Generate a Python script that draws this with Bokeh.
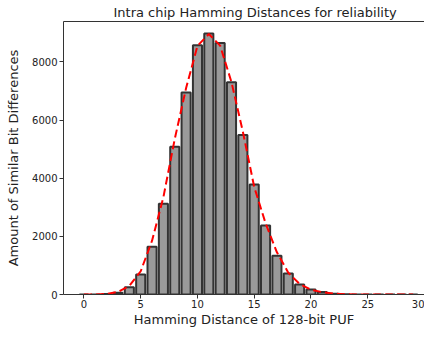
from bokeh.plotting import figure
from bokeh.models import Range1d, LinearAxis, FixedTicker
from bokeh.embed import file_html
from bokeh.resources import INLINE

# Hamming distance bins
distances = list(range(0, 30))
# Histogram counts
counts = [0, 2, 15, 60, 250, 690, 1640, 3120, 5080, 6950,
          8570, 8980, 8650, 7300, 5490, 3780, 2370, 1330, 720, 340,
          175, 90, 30, 10, 3, 0, 0, 0, 0, 0]
# Fitted curve values
fit_curve = [0, 3, 20, 90, 300, 800, 1850, 3350, 5350, 7100,
             8550, 8960, 8560, 7300, 5600, 3700, 2450, 1450, 750, 360,
             165, 80, 35, 12, 4, 1, 0, 0, 0, 0]
x_ticks = [0, 5, 10, 15, 20, 25, 30]
y_ticks = [0, 2000, 4000, 6000, 8000]

FONT = "DejaVu Sans"
TXT = "#222222"
SPINE = "#333333"

p = figure(width=424, height=329, output_backend="svg", toolbar_location=None,
           x_range=Range1d(-1.8, 30.0), y_range=Range1d(0, 9390),
           title="Intra chip Hamming Distances for reliability",
           min_border_left=63, min_border_right=0, min_border_top=5,
           min_border_bottom=0)

p.title.text_font = FONT
p.title.text_font_size = "13px"
p.title.text_font_style = "normal"
p.title.text_color = TXT
p.title.align = "left"
p.title.offset = 50
p.title.standoff = 4

p.outline_line_color = None
p.grid.visible = False
p.background_fill_color = "white"
p.border_fill_color = "white"

p.vbar(x=distances, top=counts, width=0.8, bottom=0,
       fill_color="#9a9a9a", line_color="#333333", line_width=2)
p.line(distances, fit_curve, line_color="red", line_width=2, line_dash="8 4")

for ax in (p.xaxis[0], p.yaxis[0]):
    ax.axis_line_color = SPINE
    ax.axis_line_width = 1
    ax.major_tick_line_color = SPINE
    ax.major_tick_out = 4
    ax.major_tick_in = 0
    ax.minor_tick_line_color = None
    ax.major_label_text_font = FONT
    ax.major_label_text_font_size = "10px"
    ax.major_label_text_color = TXT
    ax.major_label_standoff = 2
    ax.axis_label_text_font = FONT
    ax.axis_label_text_font_style = "normal"
    ax.axis_label_text_color = TXT

p.xaxis.ticker = FixedTicker(ticks=x_ticks)
p.yaxis.ticker = FixedTicker(ticks=y_ticks)
p.xaxis.axis_label = "Hamming Distance of 128-bit PUF"
p.yaxis.axis_label = "Amount of Similar Bit Differences"
p.xaxis.axis_label_text_font_size = "13px"
p.yaxis.axis_label_text_font_size = "13px"
p.xaxis.major_label_standoff = 1
p.xaxis.axis_label_standoff = 1
p.yaxis.axis_label_standoff = 8

top_spine = LinearAxis(ticker=FixedTicker(ticks=[]), axis_line_color=SPINE,
                       major_tick_line_color=None, minor_tick_line_color=None,
                       major_label_text_font_size="0px")
p.add_layout(top_spine, "above")

open("out.html", "w").write(file_html(p, INLINE))
